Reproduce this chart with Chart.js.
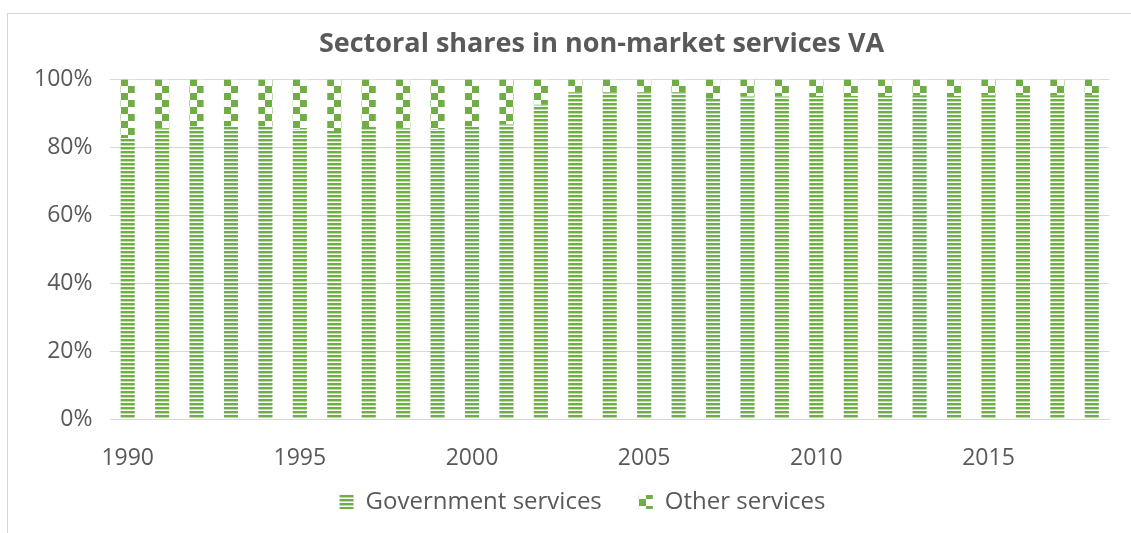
<!DOCTYPE html>
<html>
<head>
    <meta charset='utf-8'>
    <title>Sectoral shares</title>
    <style>
        body { margin: 0; background: #fff; overflow: hidden; }
        #frame { position: absolute; left: 7px; top: 13px; width: 1200px; height: 600px; border: 1px solid #D9D9D9; }
        #c { position: absolute; left: 0; top: 0; }
    </style>
</head>
<body>
    <div id="frame"></div>
    <canvas id="c" width="1131" height="533"></canvas>

    <script src="https://cdn.jsdelivr.net/npm/chart.js"></script>
    <script>
const years = ['1990','1991','1992','1993','1994','1995','1996','1997','1998','1999',
    '2000','2001','2002','2003','2004','2005','2006','2007','2008','2009',
    '2010','2011','2012','2013','2014','2015','2016','2017','2018'];
const government = [82.7, 85.6, 86.1, 86.1, 86.1, 85.4, 84.8, 86.0, 85.6, 85.4,
    86.1, 86.7, 92.5, 96.2, 96.2, 96.2, 96.2, 94.3, 95.0, 95.0,
    95.1, 95.1, 95.1, 95.3, 95.1, 95.3, 95.3, 95.3, 95.3];
const other = government.map(v => +(100 - v).toFixed(1));
const yTicks = [0, 20, 40, 60, 80, 100];

const green = '#70AD47';
const grey = '#595959';

// pattern tiles
function stripeTile() {
    const t = document.createElement('canvas');
    t.width = 4; t.height = 4;
    const g = t.getContext('2d');
    g.fillStyle = '#fff'; g.fillRect(0, 0, 4, 4);
    g.fillStyle = green; g.fillRect(0, 0, 4, 2);
    g.fillStyle = 'rgba(112,173,71,0.45)'; g.fillRect(0, 2, 4, 1);
    return t;
}
function checkerTile() {
    const t = document.createElement('canvas');
    t.width = 14; t.height = 14;
    const g = t.getContext('2d');
    g.fillStyle = '#fff'; g.fillRect(0, 0, 14, 14);
    g.fillStyle = green;
    g.fillRect(0, 0, 7, 7);
    g.fillRect(7, 7, 7, 7);
    return t;
}

const cctx = document.getElementById('c').getContext('2d');
const tiles = { gov: stripeTile(), oth: checkerTile() };

function patternFor(key) {
    return (c) => {
        const p = cctx.createPattern(tiles[key], 'repeat');
        const sx = c.chart.scales && c.chart.scales.x;
        const area = c.chart.chartArea;
        if (c.type === 'data' && sx && area) {
            const px = Math.round(sx.getPixelForValue(c.dataIndex) - 7);
            p.setTransform(new DOMMatrix().translate(px, Math.round(area.top)));
        }
        return p;
    };
}

// the original frame is wider than the picture, so title and legend sit right of centre
const shiftBlocks = {
    id: 'shiftBlocks',
    afterLayout(chart) {
        chart.legend.left += 20;
        chart.legend.right += 20;
        chart.titleBlock.left += 39;
        chart.titleBlock.right += 39;
    }
};

new Chart(document.getElementById('c'), {
    type: 'bar',
    data: {
        labels: years,
        datasets: [
            { label: 'Government services', data: government, backgroundColor: patternFor('gov'), borderWidth: 0 },
            { label: 'Other services', data: other, backgroundColor: patternFor('oth'), borderWidth: 0 }
        ]
    },
    plugins: [shiftBlocks],
    options: {
        responsive: false,
        animation: false,
        barPercentage: 0.41,
        categoryPercentage: 1,
        layout: { padding: { left: 16, right: 22, top: 0, bottom: 9 } },
        scales: {
            x: {
                stacked: true,
                grid: { display: false, drawTicks: false },
                border: { color: '#D9D9D9', width: 1 },
                afterFit: (s) => { s.height = 46; },
                ticks: {
                    autoSkip: false,
                    maxRotation: 0,
                    color: grey,
                    font: { family: 'Open Sans', size: 23 },
                    padding: 26,
                    callback: (v, i) => (+years[i] % 5 === 0 ? years[i] : '')
                }
            },
            y: {
                stacked: true,
                min: 0,
                max: 100,
                afterBuildTicks: (s) => { s.ticks = yTicks.map(v => ({ value: v })); },
                grid: { color: '#D9D9D9', drawTicks: false },
                border: { display: false },
                ticks: {
                    color: grey,
                    font: { family: 'Open Sans', size: 23 },
                    padding: 18,
                    callback: v => v + '%'
                }
            }
        },
        plugins: {
            title: {
                display: true,
                text: 'Sectoral shares in non-market services VA',
                color: grey,
                font: { family: 'Open Sans', size: 27, weight: 'bold' },
                padding: { top: 28, bottom: 19 }
            },
            legend: {
                position: 'bottom',
                labels: {
                    color: grey,
                    font: { family: 'Open Sans', size: 24 },
                    boxWidth: 14,
                    boxHeight: 14,
                    padding: 25,
                    generateLabels: (chart) => {
                        const items = Chart.defaults.plugins.legend.labels.generateLabels(chart);
                        items[0].text += '\u2002';
                        return items;
                    }
                }
            },
            tooltip: { enabled: false }
        }
    }
});
    </script>
</body>
</html>
